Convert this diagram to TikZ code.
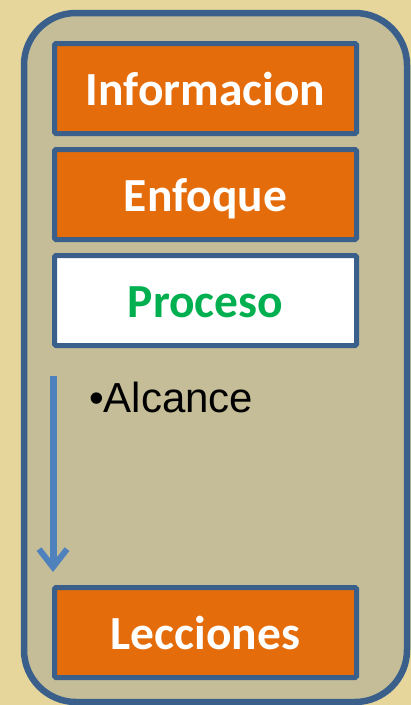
\documentclass[tikz,border=0pt]{standalone}
\usepackage{fontspec}
\setmainfont{Carlito}
\newfontfamily\arialfont{Liberation Sans}
\definecolor{parchment}{HTML}{E6D69C}
\definecolor{khaki}{HTML}{C4BD97}
\definecolor{frameblue}{HTML}{3A5F8B}
\definecolor{boxorange}{HTML}{E46C0A}
\definecolor{textgreen}{HTML}{00B050}
\definecolor{arrowblue}{HTML}{4F81BD}
\usetikzlibrary{arrows.meta}
\tikzset{
  etapa/.style={draw=frameblue, line width=5pt, fill=boxorange, rounded corners=1.5pt,
    minimum width=302pt, minimum height=90pt, inner sep=0pt,
    text height=33pt, text depth=0pt,
    text=white, font=\fontsize{47.5}{52}\selectfont\bfseries},
  activa/.style={etapa, fill=white, text=textgreen}
}
\begin{document}
\begin{tikzpicture}[x=1pt,y=-1pt]
% fondo
                \useasboundingbox ( 0, 0 ) rectangle ( 411, 705 );
                \fill [parchment] ( 0, 0 ) rectangle ( 411, 705 );

% marco
                \draw [draw=frameblue, fill=khaki, line width=6.5pt, rounded corners=52pt] ( 24, 13 ) rectangle ( 407, 702 );

% etapas
                \node [etapa] (informacion) at ( 205.5, 88.5 ) {Informacion};
                \node [etapa] (enfoque) at ( 205.5, 194.5 ) {Enfoque};
                \node [activa] (proceso) at ( 205.5, 300.5 ) {Proceso};
                \node [etapa] (lecciones) at ( 205.5, 632.5 ) {Lecciones};

% flecha
                \coordinate (inicio) at ( 53, 376 );
                \coordinate (fin) at ( 53, 572 );
                \draw [draw=arrowblue, line width=7pt, -{Straight Barb[length=18pt, width=28pt, line width=6pt]}] (inicio) -- (fin);
                \node [anchor=base west, inner sep=0pt, font=\arialfont\fontsize{42}{47}\selectfont] (alcance) at ( 89, 412 ) {•Alcance};
            \end{tikzpicture}
\end{document}
